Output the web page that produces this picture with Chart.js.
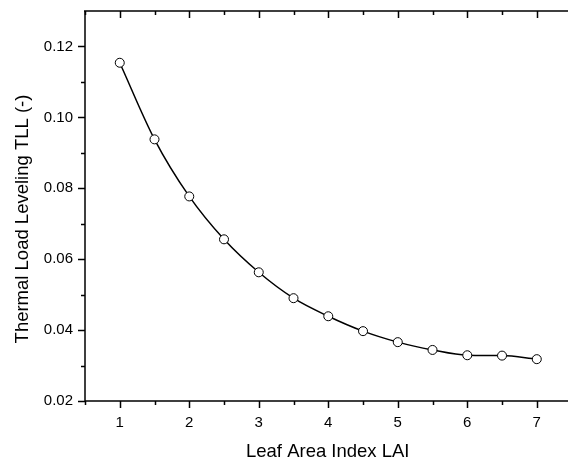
<!DOCTYPE html>
<html>
<head>
<meta charset="utf-8">
<script src="https://cdn.jsdelivr.net/npm/chart.js@4"></script>
<style>
  html, body { margin: 0; padding: 0; background: #fff; }
</style>
</head>
<body>
<canvas id="chart" width="568" height="461"></canvas>
<script>
// Data
const laiValues = [1, 1.5, 2, 2.5, 3, 3.5, 4, 4.5, 5, 5.5, 6, 6.5, 7];
const tllValues = [0.1154, 0.0938, 0.0777, 0.0656, 0.0563, 0.0490, 0.0439, 0.0397, 0.0366, 0.0344, 0.0329, 0.0328, 0.0318];

const xMajorTicks = [1, 2, 3, 4, 5, 6, 7];
const xMinorTicks = [0.5, 1.5, 2.5, 3.5, 4.5, 5.5, 6.5];
const yMajorTicks = [0.02, 0.04, 0.06, 0.08, 0.10, 0.12];
const yMinorTicks = [0.03, 0.05, 0.07, 0.09, 0.11];

const xTitle = "Leaf Area Index LAI";
const yTitle = "Thermal Load Leveling TLL (-)";

const FONT = "'Liberation Sans', Arial, sans-serif";

// Draws the frame, the Origin-style tick marks and the axis titles
const framePlugin = {
  id: "frame",
  afterDraw(chart) {
    const ctx = chart.ctx;
    const area = chart.chartArea;
    const xs = chart.scales.x;
    const ys = chart.scales.y;
    ctx.save();
    ctx.strokeStyle = "#000";
    ctx.lineWidth = 1.5;
    ctx.beginPath();
    // left, bottom, top lines
    ctx.moveTo(area.left, area.top);
    ctx.lineTo(area.left, area.bottom);
    ctx.moveTo(area.left, area.bottom);
    ctx.lineTo(chart.width, area.bottom);
    ctx.moveTo(area.left - 1, area.top);
    ctx.lineTo(chart.width, area.top);
    ctx.stroke();

    ctx.beginPath();
    const tickX = (vals, len) => {
      vals.forEach((v) => {
        const px = Math.round(xs.getPixelForValue(v)) + 0.5;
        ctx.moveTo(px, area.bottom);
        ctx.lineTo(px, area.bottom + len);
        ctx.moveTo(px, area.top);
        ctx.lineTo(px, area.top + len);
      });
    };
    const tickY = (vals, len) => {
      vals.forEach((v) => {
        const py = Math.round(ys.getPixelForValue(v)) + 0.5;
        ctx.moveTo(area.left, py);
        ctx.lineTo(area.left - len, py);
      });
    };
    tickX(xMajorTicks, 7);
    tickX(xMinorTicks, 4);
    tickY(yMajorTicks, 7);
    tickY(yMinorTicks, 4);
    ctx.stroke();

    // axis titles
    ctx.fillStyle = "#000";
    ctx.font = "18.5px " + FONT;
    ctx.textAlign = "center";
    ctx.textBaseline = "alphabetic";
    ctx.fillText(xTitle, (area.left + area.right) / 2 + 4, 457);
    ctx.translate(28, (area.top + area.bottom) / 2 + 13);
    ctx.rotate(-Math.PI / 2);
    ctx.fillText(yTitle, 0, 0);
    ctx.restore();
  },
};

const ctx = document.getElementById("chart").getContext("2d");
new Chart(ctx, {
  type: "line",
  data: {
    datasets: [
      {
        data: laiValues.map((x, i) => ({ x: x, y: tllValues[i] })),
        borderColor: "#000",
        borderWidth: 1.5,
        backgroundColor: "#fff",
        pointBackgroundColor: "#fff",
        pointBorderColor: "#000",
        pointBorderWidth: 1,
        pointRadius: 4.5,
        cubicInterpolationMode: "monotone",
        fill: false,
      },
    ],
  },
  options: {
    responsive: false,
    animation: false,
    layout: { padding: { top: 11, right: 0, left: 0, bottom: 0 } },
    plugins: {
      legend: { display: false },
      tooltip: { enabled: false },
    },
    scales: {
      x: {
        type: "linear",
        min: 0.5,
        max: 7.37,
        afterFit: (scale) => {
          scale.height = 60;
          scale.paddingLeft = 0;
          scale.paddingRight = 0;
        },
        afterBuildTicks: (scale) => {
          scale.ticks = xMajorTicks.map((v) => ({ value: v }));
        },
        grid: { display: false, drawTicks: false },
        border: { display: false },
        ticks: {
          padding: 13,
          color: "#000",
          font: { family: FONT, size: 15 },
          callback: (v) => String(v),
        },
      },
      y: {
        min: 0.02,
        max: 0.13,
        afterFit: (scale) => {
          scale.width = 85;
          scale.paddingTop = 0;
          scale.paddingBottom = 0;
        },
        afterBuildTicks: (scale) => {
          scale.ticks = yMajorTicks.map((v) => ({ value: v }));
        },
        grid: { display: false, drawTicks: false },
        border: { display: false },
        ticks: {
          padding: 12,
          color: "#000",
          font: { family: FONT, size: 15 },
          callback: (v) => Number(v).toFixed(2),
        },
      },
    },
  },
  plugins: [framePlugin],
});
</script>
</body>
</html>
